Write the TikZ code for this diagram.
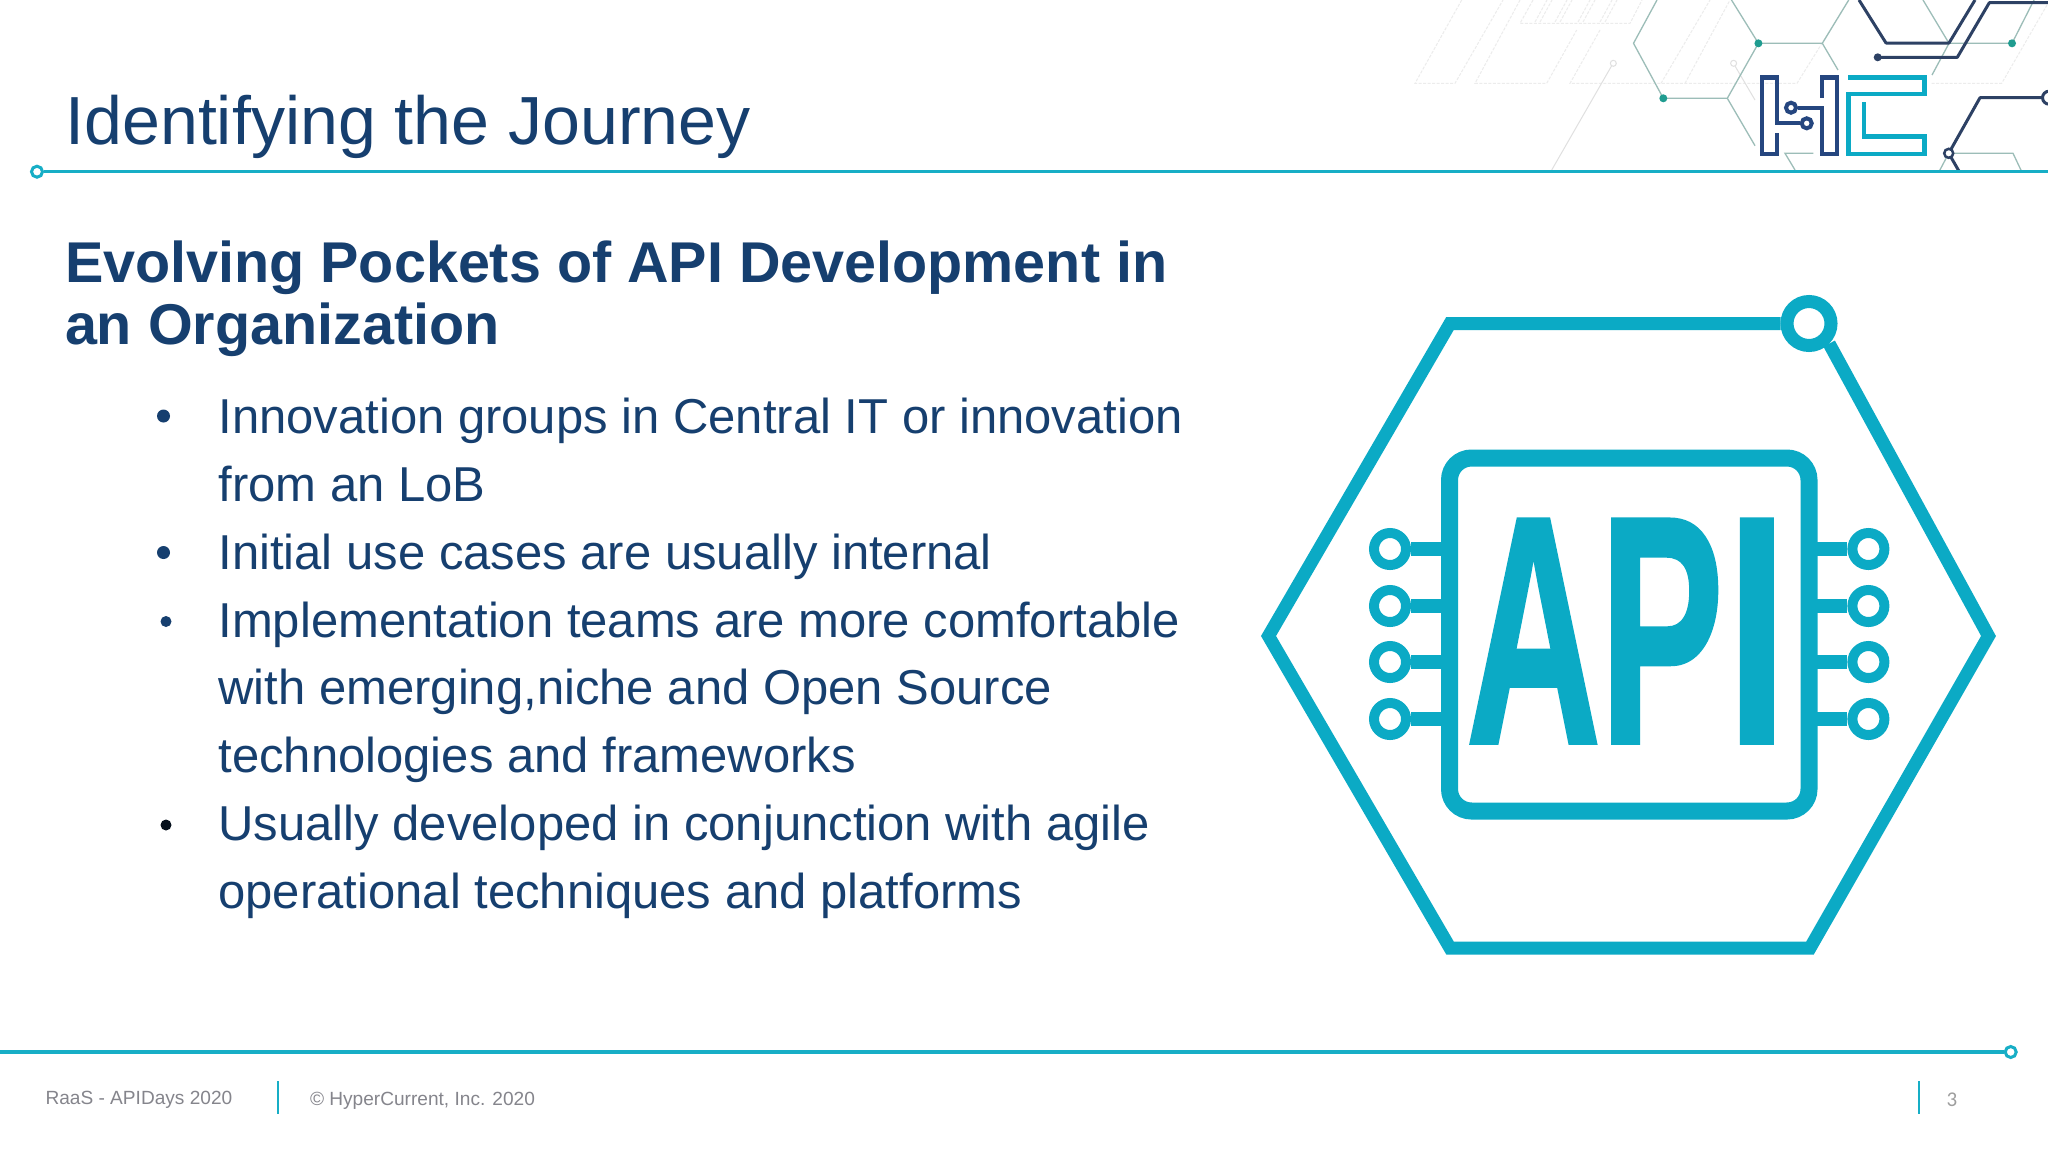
\documentclass[tikz,border=0pt]{standalone}
\usepackage{fontspec}
\setmainfont{Liberation Sans}
\newfontfamily\numfont{Carlito}
\definecolor{navy}{HTML}{163F6F}
\definecolor{teal}{HTML}{0BAAC5}
\definecolor{rulecol}{HTML}{17AEC6}
\definecolor{footgrey}{HTML}{85858C}
\definecolor{logoblue}{HTML}{25467F}
\definecolor{circ}{HTML}{2D4164}
\definecolor{hexgrey}{HTML}{9CBDB8}
\definecolor{dotgreen}{HTML}{1F9C90}
\definecolor{faint}{HTML}{ECECEC}
\tikzset{
  txt/.style={anchor=base west,inner sep=0pt,outer sep=0pt},
  titletxt/.style={txt,text=navy,font=\fontsize{68.1}{70}\selectfont},
  headtxt/.style={txt,text=navy,font=\fontsize{57.5}{60}\bfseries\selectfont},
  bodytxt/.style={txt,text=navy,font=\fontsize{49}{51}\selectfont},
  foottxt/.style={txt,text=footgrey,font=\fontsize{19.1}{21}\selectfont},
  rulel/.style={draw=rulecol,line width=3.5pt},
  ruleend/.style={draw=rulecol,line width=3pt,fill=white,circle,minimum size=11pt,inner sep=0pt},
  divider/.style={draw=rulecol,line width=1.8pt},
  icon/.style={draw=teal,line width=13pt,line join=miter},
  pin/.style={draw=teal,line width=10pt,fill=white,circle,minimum size=32pt,inner sep=0pt},
  bigring/.style={draw=teal,line width=13pt,fill=white,circle,minimum size=44pt,inner sep=0pt},
  dotb/.style={circle,inner sep=0pt,fill=navy,minimum size=#1},
  hexl/.style={draw=hexgrey,line width=1.3pt},
  hexdot/.style={circle,fill=dotgreen,inner sep=0pt,minimum size=8pt},
  faintl/.style={draw=faint,line width=1pt,dashed,dash pattern=on 3pt off 1.5pt},
  circl/.style={draw=circ,line width=3pt,line join=round},
  logoh/.style={draw=logoblue,line width=4.3pt,line join=miter},
  logoc/.style={draw=teal,line width=4.5pt,line join=miter},
  logoring/.style={circle,draw=logoblue,line width=4pt,fill=white,minimum size=10pt,inner sep=0pt},
}
\begin{document}
\begin{tikzpicture}[x=1pt,y=-1pt]
\useasboundingbox (0,0) rectangle (2048,1152);
\fill[white] (0,0) rectangle (2048,1152);
% faint backdrop
\draw[faintl] (1461.7,0) -- (1415,83.3) -- (1455,83.3) -- (1503,0);
\draw[faintl] (1520,0) -- (1475,83.3) -- (1546.7,83.3) -- (1576.7,30);
\draw[faintl] (1600,30) -- (1570,83.3) -- (1797,83.3) -- (1849,0);
\draw[faintl] (1533,0) -- (1520,23.3) -- (1630,23.3) -- (1642,0);
\foreach \xa in {1535,1555,1578,1600} \draw[faintl] (\xa,22) -- (\xa+12,0) (\xa+5,22) -- (\xa+17,0);
\draw[faintl] (1685,83.3) -- (1730,0);
\draw[faintl] (1661,83.3) -- (1710,0);
\draw[faintl] (1931.7,83.3) -- (2001.7,83.3) -- (2048,3.3);
\draw[draw=faint!95!black,line width=1pt] (1551.7,170) -- (1611.5,66);
\draw[draw=faint!95!black,line width=1pt] (1613.3,63.3) circle (3);
\draw[draw=faint!95!black,line width=1pt] (1733.6,63.3) circle (3);
\draw[draw=faint!95!black,line width=1pt] (1735,66) -- (1755,100);
% hexagon lines
\coordinate (h1) at (1663.3,98.3);
\coordinate (h2) at (1758.4,43.3);
\coordinate (h3) at (2012,43.3);
\draw[hexl] (1657,0) -- (1633.5,43.3) -- (h1) -- (1727.3,98.3) -- (h2) -- (1731.5,0);
\draw[hexl] (1727.3,98.3) -- (1755,145.7);
\draw[hexl] (h2) -- (1822.3,43.3) -- (1848.7,0);
\draw[hexl] (1822.3,43.3) -- (1838,70);
\draw[hexl] (1923,0) -- (1949,43.3) -- (h3) -- (2034,0);
\draw[hexl] (1949,43.3) -- (1932,75);
\draw[hexl] (1795,170) -- (1785,153.3) -- (1813.3,153.3);
\draw[hexl] (1939,171.7) -- (1948.7,153.3) -- (2013,153.3) -- (2021.7,171.7);
\node[hexdot] (d1) at (h1) {};
\node[hexdot] (d2) at (h2) {};
\node[hexdot] (d3) at (h3) {};
% dark circuit lines
\coordinate (c1) at (1877.7,57.3);
\draw[circl] (1859,0) -- (1886,43) -- (1949,43) -- (1975,0);
\draw[circl] (c1) -- (1957.3,57.3) -- (1989.3,2.7) -- (2048,2.7);
\node[circle,fill=circ,inner sep=0pt,minimum size=8pt] (cdot) at (c1) {};
\coordinate (c2) at (1948.7,153.3);
\draw[circl] (2048,97.7) -- (1980,97.7) -- (c2) -- (1959.3,171.7);
\node[circle,draw=circ,line width=2.5pt,fill=white,minimum size=9pt,inner sep=0pt] (cring) at (c2) {};
\node[circle,draw=circ,line width=3pt,fill=white,minimum size=13pt,inner sep=0pt] (cring2) at (2049,97.7) {};
% HC logo
\node[logoring] (r1) at (1791,107.7) {};
\node[logoring] (r2) at (1806.7,123.3) {};
\draw[logoh] (1777.3,133) -- (1777.3,154) -- (1761.7,154) -- (1761.7,77.5) -- (1777.3,77.5) -- (1777.3,123.3) -- (r2);
\draw[logoh] (r1) -- (1821.7,107.7) -- (1821.7,154) -- (1837.3,154) -- (1837.3,77.5) -- (1821.7,77.5) -- (1821.7,97.7);
\draw[logoc] (1848.3,77.5) -- (1924.3,77.5) -- (1924.3,94) -- (1848.3,94) -- (1848.3,154) -- (1924.3,154) -- (1924.3,136.7) -- (1864,136.7) -- (1864,102.3);
% rules
\node[ruleend] (topend) at (37,171.7) {};
\coordinate (topfree) at (2048,171.7);
\draw[rulel] (topend) -- (topfree);
\node[ruleend] (botend) at (2010.7,1052) {};
\coordinate (botfree) at (0,1052);
\draw[rulel] (botfree) -- (botend);
\draw[divider] (278,1081) -- (278,1114);
\draw[divider] (1919,1081) -- (1919,1114);
% texts
\node[titletxt] (title) at (65.5,144.2) {Identifying the Journey};
\node[headtxt] (h1t) at (65,282) {Evolving Pockets of API Development in};
\node[headtxt] (h2t) at (65,344.5) {an Organization};
\node[bodytxt] (b1) at (218.5,433) {Innovation groups in Central IT or innovation};
\node[bodytxt] (b2) at (218.5,501) {from an LoB};
\node[bodytxt] (b3) at (218.5,569) {Initial use cases are usually internal};
\node[bodytxt] (b4) at (218.5,637) {Implementation teams are more comfortable};
\node[bodytxt] (b5) at (218.5,704.5) {with emerging,niche and Open Source};
\node[bodytxt] (b6) at (218.5,772.5) {technologies and frameworks};
\node[bodytxt] (b7) at (218.5,840) {Usually developed in conjunction with agile};
\node[bodytxt] (b8) at (218.5,908) {operational techniques and platforms};
\node[dotb=13pt] (bu1) at (163.5,416) {};
\node[dotb=13pt] (bu2) at (163.5,552.5) {};
\node[dotb=11pt] (bu3) at (166,621.5) {};
\node[circle,inner sep=0pt,fill=black!75!navy,minimum size=11pt] (bu4) at (166,825) {};
\node[foottxt] (f1) at (45.5,1104.5) {RaaS - APIDays 2020};
\node[foottxt] (f2) at (310,1105.5) {\textcopyright{} HyperCurrent, Inc. 2020};
\node[txt,text=black!38,font=\numfont\fontsize{21}{22}\selectfont] (f3) at (1946.5,1106) {3};
% API icon
\node[bigring] (ring) at (1809,323.5) {};
\draw[icon] (ring.west) -- (1450,323.5) -- (1268.5,636) -- (1450,948) -- (1810,948) -- (1988.5,636) -- (ring.south east);
\draw[draw=teal,line width=17pt,rounded corners=22pt,fill=white] (1449.5,458) rectangle (1809,811);
\foreach \n/\yy in {1/549,2/606,3/662,4/719}{
  \node[pin] (pl\n) at (1390,\yy) {};
  \node[pin] (pr\n) at (1868.4,\yy) {};
  \coordinate (sl\n) at (1441,\yy);
  \coordinate (sr\n) at (1817,\yy);
  \draw[draw=teal,line width=13.6pt] (pl\n) -- (sl\n);
  \draw[draw=teal,line width=13.6pt] (pr\n) -- (sr\n);
}
\node[txt,text=teal,font=\fontsize{325}{335}\bfseries\selectfont\addfontfeature{FakeBold=1.2}] (api) at (1466,743)
 {\scalebox{.575}[1]{A}\kern-1pt\scalebox{.57}[1]{P}\kern3pt\scalebox{.67}[1]{I}};
\end{tikzpicture}
\end{document}
